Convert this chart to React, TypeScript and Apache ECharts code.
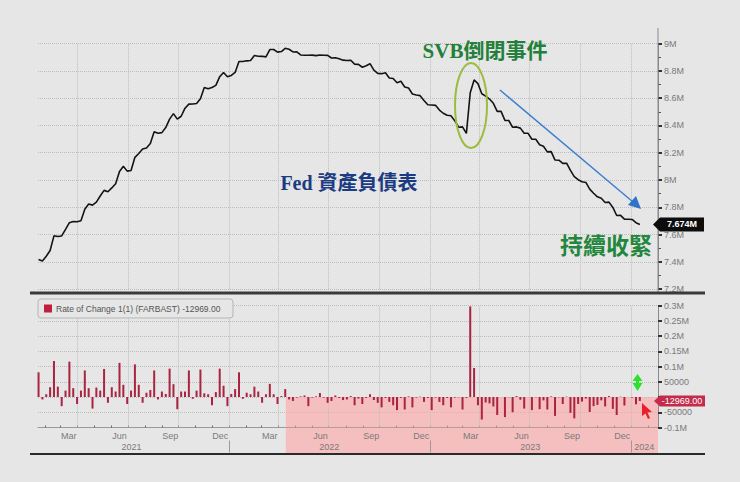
import React, { useEffect, useRef } from "react";
import * as echarts from "echarts";

// ---- data ----
const firstWeek = "2021-01-20"; // weekly observations (Wednesdays)

// Fed balance sheet, total assets, in millions of millions ("M" on the axis)
const balance2021 = [
  7.417, 7.407,
  7.441, 7.483, 7.591, 7.586,
  7.59, 7.638, 7.687, 7.696, 7.694,
  7.702, 7.786, 7.824, 7.816,
  7.838, 7.883, 7.924, 7.914,
  7.942, 7.973, 8.063, 8.101, 8.065,
  8.07, 8.166, 8.194, 8.227,
  8.235, 8.268, 8.354, 8.343,
  8.347, 8.384, 8.446, 8.486, 8.446,
  8.467, 8.526, 8.556, 8.557,
  8.56, 8.596, 8.677, 8.668,
  8.678, 8.693, 8.757, 8.788, 8.757,
];
const balance2022 = [
  8.766, 8.788, 8.868, 8.868,
  8.873, 8.876, 8.912, 8.907,
  8.906, 8.902, 8.956, 8.956, 8.937,
  8.941, 8.965, 8.958, 8.938,
  8.939, 8.916, 8.914, 8.914,
  8.915, 8.911, 8.916, 8.914, 8.913,
  8.894, 8.895, 8.888, 8.878,
  8.876, 8.877, 8.849, 8.847, 8.826,
  8.837, 8.852, 8.805, 8.781,
  8.779, 8.786, 8.747, 8.743,
  8.712, 8.723, 8.681, 8.674, 8.63,
  8.623, 8.618, 8.583, 8.551,
];
const balance2023 = [
  8.55, 8.547, 8.512, 8.489,
  8.474, 8.471, 8.433, 8.387,
  8.389, 8.342, 8.639, 8.733, 8.706,
  8.632, 8.614, 8.593, 8.562,
  8.503, 8.503, 8.437, 8.436, 8.386,
  8.389, 8.38, 8.342, 8.342,
  8.299, 8.298, 8.258, 8.247,
  8.206, 8.208, 8.146, 8.145, 8.122,
  8.123, 8.071, 8.025, 8.002,
  7.987, 7.982, 7.933, 7.903,
  7.877, 7.866, 7.835, 7.838, 7.799,
  7.74, 7.741, 7.713, 7.713,
];
const balance2024 = [7.711, 7.687, 7.674];

// Rate of Change 1(1) (FARBAST), in thousands
const rocWeekly = [
  81, -8, 9, 32, 118, 34, -30, 21, 116, 29,
  -23, 21, 87, 29, -38, 31, 21, 92, -19, 32,
  18, 112, 40, -23, 21, 107, 40, -19, 14, 23,
  87, -8, 18, 10, 93, 42, -40, 18, 18, 87,
  -6, 21, 90, 12, 9, -27, 16, 93, 37, -30,
  10, 26, 81, -6, 14, 9, 34, 18, -19, 9,
  43, 9, -23, 3, 26,
  -8, -13, -2, 2, 5, -30, -2, 2, 13, -2,
  -19, -13, 5, -3, -10, -8, 3, -27, -5, -23,
  -3, 9, -10, -19, -34, -3, -16, -27, -43, -3,
  -41, 2, -34, -2, 1, -16, -3, -43, -2, -16,
  -27, -3, -34, -2, -1, -41, -3,
  297, 95,
  -27, -74, -18, -21, -31, -59, 0, -66, -1, -50,
  3, -9, -38, 0, -43, -1, -40, -11, -41, 2,
  -62, -1, -23, 1, -52, -70, -23, -15, -5, -49,
  -30, -26, -11, -31, 3, -39, -59, 1, -28, 0,
  -2, -24, -12.969,
];

const axisStart = "2021-01-19";
const axisEnd = "2024-02-19";
const shadeStart = "2022-04-14";
const monthNames = ["Jan", "Feb", "Mar", "Apr", "May", "Jun", "Jul", "Aug", "Sep", "Oct", "Nov", "Dec"];
const monthLabelDates = [
  "2021-03-16", "2021-06-16", "2021-09-16", "2021-12-16",
  "2022-03-16", "2022-06-16", "2022-09-16", "2022-12-16",
  "2023-03-16", "2023-06-16", "2023-09-16", "2023-12-16",
];
const yearLabelDates = ["2021-07-08", "2022-07-02", "2023-07-02", "2024-01-25"];
const yearStartDates = ["2022-01-01", "2023-01-01", "2024-01-01"];
const quarterDates = [
  "2021-04-01", "2021-07-01", "2021-10-01", "2022-01-01",
  "2022-04-01", "2022-07-01", "2022-10-01", "2023-01-01",
  "2023-04-01", "2023-07-01", "2023-10-01", "2024-01-01",
];

const ts = (s: string) => {
  const [y, m, d] = s.split("-").map(Number);
  return Date.UTC(y, m - 1, d);
};
const DAY = 86400000;

const FONT = "'Liberation Sans', Arial, sans-serif";

export default function App() {
  const ref = useRef<HTMLDivElement>(null);

  useEffect(() => {
    if (!ref.current) return;
    const chart = echarts.init(ref.current, undefined, { renderer: "svg" });

    const balance = [...balance2021, ...balance2022, ...balance2023, ...balance2024];
    const t0 = ts(firstWeek);
    const weeks = balance.map((_, i) => t0 + i * 7 * DAY);
    const lineData = balance.map((v, i) => [weeks[i], v]);
    const barData = rocWeekly.map((v, i) => [weeks[i], v]);
    const xmin = ts(axisStart);
    const xmax = ts(axisEnd);

    const monthStarts: number[] = [];
    for (let y = 2021; y <= 2024; y++) {
      for (let m = 0; m < 12; m++) {
        const t = Date.UTC(y, m, 1);
        if (t > xmin && t < xmax) monthStarts.push(t);
      }
    }

    const quarterLines = {
      silent: true,
      symbol: "none",
      label: { show: false },
      lineStyle: { type: "dotted", color: "#bdbdbd", width: 1 },
      data: quarterDates.map((d) => ({ xAxis: ts(d) })),
    };

    const axisLabelBase = { color: "#7a7a7a", fontSize: 9, fontFamily: FONT };

    chart.setOption({
      animation: false,
      backgroundColor: "#e6e6e6",
      grid: [
        { left: 38, right: 82, top: 43.5, height: 245.7 },
        { left: 38, right: 82, top: 305.5, height: 122 },
      ],
      xAxis: [
        { type: "value", gridIndex: 0, min: xmin, max: xmax, show: false, splitLine: { show: false } },
        {
          type: "value",
          gridIndex: 1,
          min: xmin,
          max: xmax,
          axisLine: { show: true, onZero: false, lineStyle: { color: "#9a9a9a", width: 1 } },
          axisTick: { show: true, customValues: monthStarts, length: 2, inside: true, lineStyle: { color: "#666" } },
          axisLabel: {
            ...axisLabelBase,
            margin: 4,
            customValues: monthLabelDates.map(ts),
            formatter: (v: number) => monthNames[new Date(v).getUTCMonth()],
          },
          splitLine: { show: false },
        },
        {
          type: "value",
          gridIndex: 1,
          min: xmin,
          max: xmax,
          position: "bottom",
          offset: 13,
          axisLine: { show: false, onZero: false },
          axisTick: { show: true, customValues: yearStartDates.map(ts), length: 12, lineStyle: { color: "#9a9a9a" } },
          axisLabel: {
            ...axisLabelBase,
            margin: 2,
            customValues: yearLabelDates.map(ts),
            formatter: (v: number) => String(new Date(v).getUTCFullYear()),
          },
          splitLine: { show: false },
        },
      ],
      yAxis: [
        {
          type: "value",
          gridIndex: 0,
          position: "right",
          min: 7.2,
          max: 9,
          interval: 0.2,
          axisLine: { show: true, lineStyle: { color: "#8a8a8a" } },
          axisTick: { show: true, length: 4, lineStyle: { color: "#333", width: 2 } },
          minorTick: { show: true, splitNumber: 2, length: 3, lineStyle: { color: "#555" } },
          axisLabel: { ...axisLabelBase, margin: 6, formatter: (v: number) => `${+v.toFixed(1)}M` },
          splitLine: { show: true, lineStyle: { type: "dotted", color: "#bdbdbd" } },
        },
        {
          type: "value",
          gridIndex: 1,
          position: "right",
          min: -100,
          max: 300,
          interval: 50,
          axisLine: { show: true, lineStyle: { color: "#8a8a8a" } },
          axisTick: { show: true, length: 4, lineStyle: { color: "#333", width: 2 } },
          axisLabel: {
            ...axisLabelBase,
            margin: 6,
            // the zero label sits under the last-value tag, as in the reference
            formatter: (v: number) =>
              v === 0 ? "" : Math.abs(v) >= 100 ? `${+(v / 1000).toFixed(2)}M` : String(v * 1000),
          },
          splitLine: { show: true, lineStyle: { type: "dotted", color: "#bdbdbd" } },
        },
      ],
      series: [
        {
          type: "line",
          xAxisIndex: 0,
          yAxisIndex: 0,
          data: lineData,
          showSymbol: false,
          lineStyle: { color: "#141414", width: 1.6 },
          markLine: quarterLines,
          z: 5,
        },
        {
          type: "bar",
          xAxisIndex: 1,
          yAxisIndex: 1,
          data: barData,
          barWidth: 2,
          itemStyle: { color: "#aa2340" },
          markLine: quarterLines,
          markArea: {
            silent: true,
            itemStyle: { color: "rgba(255,165,165,0.6)" },
            data: [[{ xAxis: ts(shadeStart), yAxis: 0 }, { xAxis: xmax, yAxis: -100 }]],
          },
          z: 5,
        },
      ],
    });

    const lastBal = balance[balance.length - 1];
    const lastRoc = rocWeekly[rocWeekly.length - 1];
    const yTag1 = chart.convertToPixel({ yAxisIndex: 0 }, lastBal) as number;
    const yTag2 = chart.convertToPixel({ yAxisIndex: 1 }, lastRoc) as number;
    const xShade = chart.convertToPixel({ xAxisIndex: 1 }, ts(shadeStart)) as number;
    const xRight = chart.convertToPixel({ xAxisIndex: 1 }, xmax) as number;
    const yAxisBottom = chart.convertToPixel({ yAxisIndex: 1 }, -100) as number;
    const rocText = (lastRoc * 1000).toFixed(2);

    chart.setOption({
      graphic: [
        { type: "rect", z: -10, silent: true, shape: { x: xShade, y: yAxisBottom, width: xRight - xShade, height: 454 - yAxisBottom }, style: { fill: "rgba(255,165,165,0.6)" } },
        { type: "line", z: 50, shape: { x1: 30, y1: 293, x2: 705, y2: 293 }, style: { stroke: "#3a3a3a", lineWidth: 3 } },
        { type: "line", z: 50, shape: { x1: 30, y1: 454, x2: 705, y2: 454 }, style: { stroke: "#2a2a2a", lineWidth: 2 } },
        { type: "line", z: 40, shape: { x1: 658, y1: 28, x2: 658, y2: 292 }, style: { stroke: "#8a8a8a", lineWidth: 1 } },
        { type: "rect", z: 60, shape: { x: 38, y: 299, width: 195, height: 19, r: 3 }, style: { fill: "#e6e6e6", stroke: "#b5b5b5", lineWidth: 1 } },
        { type: "rect", z: 61, shape: { x: 44, y: 304.5, width: 8, height: 8 }, style: { fill: "#c0203c" } },
        { type: "text", z: 61, x: 56, y: 309, style: { text: `Rate of Change 1(1) (FARBAST) ${rocText}`, fill: "#555", font: `8.5px ${FONT}`, textVerticalAlign: "middle" } },
        { type: "polygon", z: 70, shape: { points: [[653, yTag1], [660, yTag1 - 7], [704, yTag1 - 7], [704, yTag1 + 7], [660, yTag1 + 7]] }, style: { fill: "#0d0d0d" } },
        { type: "text", z: 71, x: 682, y: yTag1, style: { text: `${lastBal.toFixed(3)}M`, fill: "#fff", font: `bold 9px ${FONT}`, textAlign: "center", textVerticalAlign: "middle" } },
        { type: "polygon", z: 70, shape: { points: [[654, yTag2], [660, yTag2 - 5.5], [705, yTag2 - 5.5], [705, yTag2 + 5.5], [660, yTag2 + 5.5]] }, style: { fill: "#c42a4a" } },
        { type: "text", z: 71, x: 682, y: yTag2, style: { text: rocText, fill: "#fff", font: `9px ${FONT}`, textAlign: "center", textVerticalAlign: "middle" } },
        { type: "ellipse", z: 80, shape: { cx: 471, cy: 105.5, rx: 16, ry: 42.5 }, style: { fill: "none", stroke: "#9dbb3c", lineWidth: 2 } },
        { type: "line", z: 80, shape: { x1: 500, y1: 90, x2: 633, y2: 202 }, style: { stroke: "#3b7fd0", lineWidth: 1.5 } },
        { type: "polygon", z: 80, shape: { points: [[641, 209], [628, 205], [636, 196]] }, style: { fill: "#2f72c8" } },
        { type: "text", z: 90, x: 485, y: 51, style: { text: "SVB倒閉事件", fill: "#23803a", font: `bold 21px 'Liberation Serif', 'Noto Sans CJK TC', serif`, textAlign: "center", textVerticalAlign: "middle" } },
        { type: "text", z: 90, x: 349, y: 183, style: { text: "Fed 資產負債表", fill: "#1b3c82", font: `bold 20px 'Liberation Serif', 'Noto Sans CJK TC', serif`, textAlign: "center", textVerticalAlign: "middle" } },
        { type: "text", z: 90, x: 606, y: 244, style: { text: "持續收緊", fill: "#22873c", font: `bold 23px 'Noto Sans CJK TC', sans-serif`, textAlign: "center", textVerticalAlign: "middle" } },
        { type: "polygon", z: 90, shape: { points: [[637.5, 374], [642.5, 381], [639, 381], [639, 383], [642.5, 383], [637.5, 391], [632.5, 383], [636, 383], [636, 381], [632.5, 381]] }, style: { fill: "#2ee02e" } },
        { type: "polygon", z: 90, shape: { points: [[642, 403], [652, 412], [647.5, 412.5], [650, 418], [648, 419], [645.5, 413.5], [642, 416]] }, style: { fill: "#e8202a" } },
      ],
    });

    return () => chart.dispose();
  }, []);

  return <div ref={ref} style={{ position: "fixed", left: 0, top: 0, width: 740, height: 482 }} />;
}
